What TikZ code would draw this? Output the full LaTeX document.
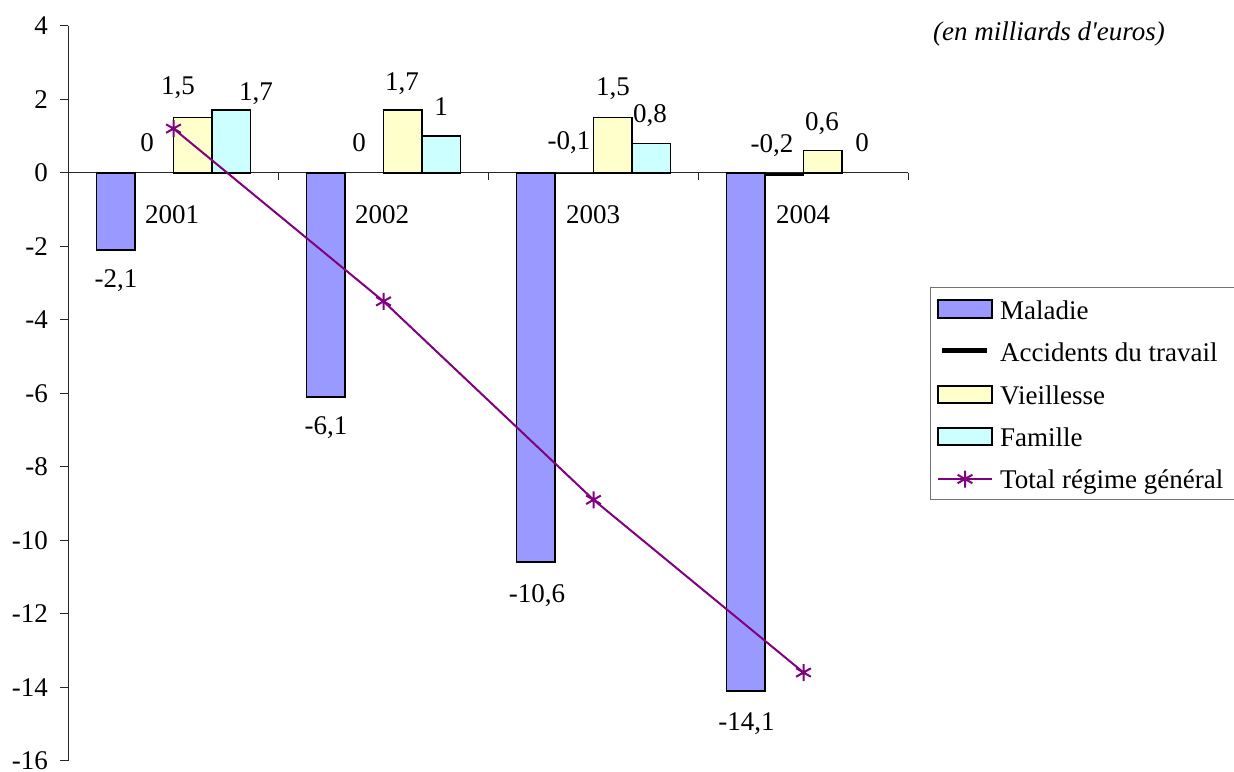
\documentclass[tikz,border=0pt]{standalone}
\usepackage{fontspec}
\setmainfont{Liberation Serif}
\definecolor{maladie}{HTML}{9999FF}
\definecolor{vieil}{HTML}{FFFFCC}
\definecolor{famil}{HTML}{CCFFFF}
\definecolor{purp}{HTML}{800080}
\begin{document}
\begin{tikzpicture}[x=1pt,y=-1pt,
  font=\fontsize{27}{32}\selectfont,
  bar/.style={draw=black, line width=1.6pt},
  mal/.style={bar, fill=maladie},
  vie/.style={bar, fill=vieil},
  fam/.style={bar, fill=famil},
  acc/.style={fill=black, draw=none},
  axisline/.style={draw=black!85, line width=1pt},
  totline/.style={draw=purp, line width=2pt},
  lab/.style={inner sep=0pt, anchor=base},
  legtext/.style={inner sep=0pt, anchor=base west},
  starmark/.pic={\draw[purp, line width=2pt] (0,-8.5)--(0,8.5) (-7.4,-4.25)--(7.4,4.25) (-7.4,4.25)--(7.4,-4.25);}
]
\useasboundingbox (0,0) rectangle (1234,771);

% axes
\draw[axisline] (68,25.7) -- (68,760.7);
\foreach \v [count=\i] in {4,2,0,-2,-4,-6,-8,-10,-12,-14,-16}{
  \draw[axisline] (60,{172.7-36.75*\v}) -- (68,{172.7-36.75*\v});
  \node[inner sep=0pt, anchor=east] (yl\i) at (48,{172.7-36.75*\v}) {\v};
}
\draw[axisline] (68,172.7) -- (908,172.7);
\foreach \x in {278,488,698,908}{
  \draw[axisline] (\x,172.7) -- (\x,180);
}

% bars 2001
\draw[mal] (96.5,172.7) rectangle (135,{172.7+36.75*2.1});
\draw[vie] (173.5,172.7) rectangle (212,{172.7-36.75*1.5});
\draw[fam] (212,172.7) rectangle (250.5,{172.7-36.75*1.7});
% bars 2002
\draw[mal] (306.5,172.7) rectangle (345,{172.7+36.75*6.1});
\draw[vie] (383.5,172.7) rectangle (422,{172.7-36.75*1.7});
\draw[fam] (422,172.7) rectangle (460.5,{172.7-36.75*1});
% bars 2003
\draw[mal] (516.5,172.7) rectangle (555,{172.7+36.75*10.6});
\fill[acc] (555,172.7) rectangle (593.5,174.2);
\draw[vie] (593.5,172.7) rectangle (632,{172.7-36.75*1.5});
\draw[fam] (632,172.7) rectangle (670.5,{172.7-36.75*0.8});
% bars 2004
\draw[mal] (726.5,172.7) rectangle (765,{172.7+36.75*14.1});
\fill[acc] (765,172.7) rectangle (803.5,175.7);
\draw[vie] (803.5,172.7) rectangle (842,{172.7-36.75*0.6});

% total line
\coordinate (t1) at (173.5,{172.7-36.75*1.2});
\coordinate (t2) at (383.5,{172.7+36.75*3.5});
\coordinate (t3) at (593.5,{172.7+36.75*8.9});
\coordinate (t4) at (803.5,{172.7+36.75*13.6});
\draw[totline] (t1) -- (t2) -- (t3) -- (t4);
\foreach \p in {t1,t2,t3,t4}{ \pic at (\p) {starmark}; }

% data labels
\node[lab] (l01m) at (116,287) {-2,1};
\node[lab] (l01a) at (147,151) {0};
\node[lab] (l01v) at (178,94) {1,5};
\node[lab] (l01f) at (256,100) {1,7};
\node[lab] (c01) at (172,223) {2001};
\node[lab] (l02m) at (326,434) {-6,1};
\node[lab] (l02a) at (359,151) {0};
\node[lab] (l02v) at (402,90) {1,7};
\node[lab] (l02f) at (441,115) {1};
\node[lab] (c02) at (382,223) {2002};
\node[lab] (l03m) at (537,602) {-10,6};
\node[lab] (l03a) at (569,149) {-0,1};
\node[lab] (l03v) at (613,95) {1,5};
\node[lab] (l03f) at (650,122) {0,8};
\node[lab] (c03) at (593,223) {2003};
\node[lab] (l04m) at (746.5,730) {-14,1};
\node[lab] (l04a) at (772,152) {-0,2};
\node[lab] (l04v) at (822,130) {0,6};
\node[lab] (l04f) at (862,151) {0};
\node[lab] (c04) at (803,223) {2004};

% title
\node[inner sep=0pt, anchor=base east, font=\fontsize{27}{32}\selectfont\itshape] (title) at (1165,40) {(en milliards d\textquotesingle euros)};

% legend
\draw[draw=black!55, line width=1pt] (930,287) rectangle (1250,499);
\draw[mal] (938,300) rectangle (992,318);
\node[legtext] (lg1) at (1000,319) {Maladie};
\draw[black, line width=5pt] (942,350) -- (987,350);
\node[legtext] (lg2) at (1000,361) {Accidents du travail};
\draw[vie] (938,386) rectangle (992,403);
\node[legtext] (lg3) at (1000,404) {Vieillesse};
\draw[fam] (938,428) rectangle (992,445);
\node[legtext] (lg4) at (1000,446) {Famille};
\coordinate (lgs) at (965,479);
\draw[totline] (938,479) -- (992,479);
\pic at (lgs) {starmark};
\node[legtext] (lg5) at (1000,488) {Total régime général};
\end{tikzpicture}
\end{document}
